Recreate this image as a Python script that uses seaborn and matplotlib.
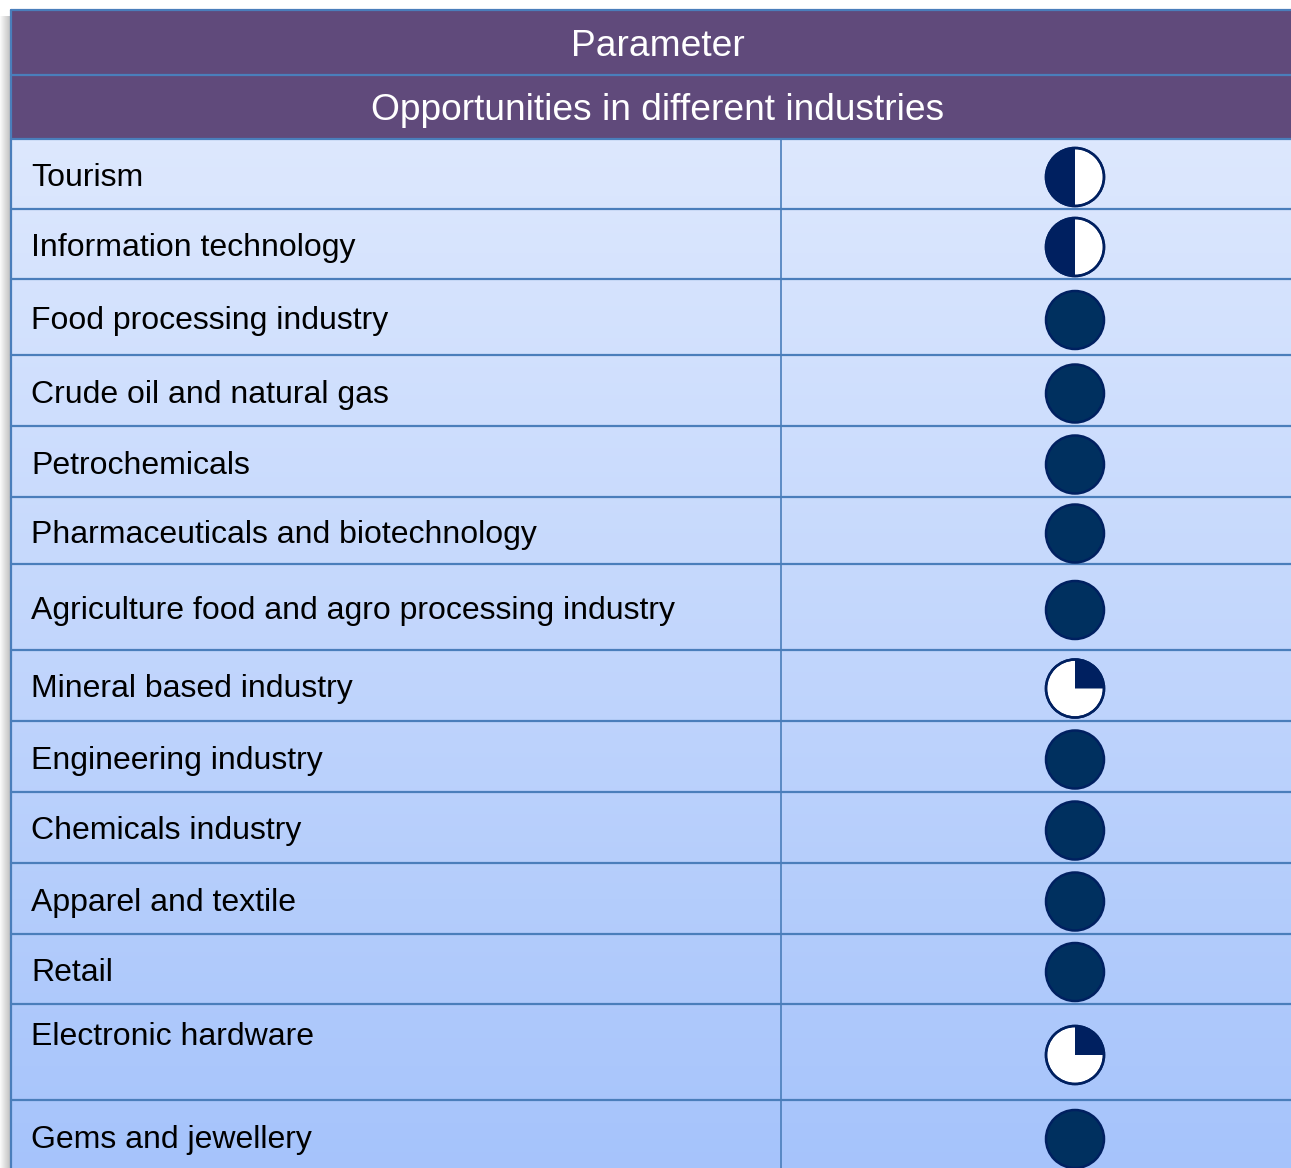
import numpy as np
import matplotlib.pyplot as plt
import seaborn as sns
from matplotlib.patches import Rectangle, Circle, Wedge
from matplotlib.colors import LinearSegmentedColormap

sns.set_theme(style="white")
plt.rcParams['font.family'] = ['Liberation Sans', 'DejaVu Sans']

header1 = "Parameter"
header2 = "Opportunities in different industries"
industries = ["Tourism", "Information technology", "Food processing industry",
              "Crude oil and natural gas", "Petrochemicals",
              "Pharmaceuticals and biotechnology",
              "Agriculture food and agro processing industry",
              "Mineral based industry", "Engineering industry",
              "Chemicals industry", "Apparel and textile", "Retail",
              "Electronic hardware", "Gems and jewellery"]
# harvey ball level, quarters filled (0-4)
scores = [2, 2, 4, 4, 4, 4, 4, 1, 4, 4, 4, 4, 1, 4]

# layout (pixels)
W, H = 1291, 1168
left, top = 11, 10
hdr_mid, hdr_bot = 75, 139
row_edges = [139, 209, 279, 355, 426, 497, 564, 650, 721, 792, 863, 934, 1004, 1100, 1180]
col_div = 781
ball_x, ball_r = 1075, 29
line_c = "#4A7EBB"
dark = "#00305F"
edge = "#002060"

fig = plt.figure(figsize=(W / 100, H / 100), dpi=100)
ax = fig.add_axes([0, 0, 1, 1])

# body gradient
cmap = LinearSegmentedColormap.from_list("bg", ["#DDE8FE", "#A5C3FB"])
grad = np.linspace(0, 1, 256).reshape(-1, 1)
ax.imshow(grad, cmap=cmap, aspect="auto", extent=(left, W, row_edges[-1], hdr_bot),
          origin="upper", zorder=0)

# left shadow
for i in range(11):
    ax.add_patch(Rectangle((left - i - 1, top + 6), 1, H, color="#707070",
                           alpha=0.45 * (1 - i / 11), lw=0, zorder=1))

# header
ax.add_patch(Rectangle((left, top), W - left, hdr_bot - top, color="#604A7B", lw=0, zorder=1))
ax.text(658, (top + hdr_mid) / 2 + 4, header1, color="white", fontsize=26.7,
        ha="center", va="center", zorder=3)
ax.text(658, (hdr_mid + hdr_bot) / 2 + 4, header2, color="white", fontsize=26.7,
        ha="center", va="center", zorder=3)

# grid lines
for y in [top, hdr_mid] + row_edges[:-1]:
    ax.plot([left, W], [y, y], color=line_c, lw=1.6, zorder=2)
ax.plot([left, left], [top, H], color=line_c, lw=1.6, zorder=2)
ax.plot([col_div, col_div], [hdr_bot, H], color=line_c, lw=1.2, zorder=2)

# rows
for i, (name, s) in enumerate(zip(industries, scores)):
    y0, y1 = row_edges[i], row_edges[i + 1]
    yc = (y0 + y1) / 2
    if i == len(industries) - 1:
        yc = (y0 + H) / 2 + 2
    ty = y0 + 33 if name == "Electronic hardware" else yc + 4
    by = yc + 3
    ax.text(31, ty, name, fontsize=23, color="black", ha="left", va="center", zorder=3)
    if s >= 4:
        ax.add_patch(Circle((ball_x, by), ball_r, facecolor=dark, edgecolor=edge,
                            lw=1.8, zorder=3))
    else:
        ax.add_patch(Circle((ball_x, by), ball_r, facecolor="white", edgecolor=edge,
                            lw=1.8, zorder=3))
        # y axis is inverted: angle 270 points to screen top
        if s == 2:
            a0, a1 = 90, 270
        else:
            a0, a1 = 270, 270 + 90 * s
        if s > 0:
            ax.add_patch(Wedge((ball_x, by), ball_r, a0, a1,
                               facecolor=edge, edgecolor="none", zorder=3))
        ax.add_patch(Circle((ball_x, by), ball_r, facecolor="none", edgecolor=edge,
                            lw=1.8, zorder=4))

ax.set_xlim(0, W)
ax.set_ylim(H, 0)
ax.axis("off")
fig.savefig("out.png", dpi=100, facecolor="white")
